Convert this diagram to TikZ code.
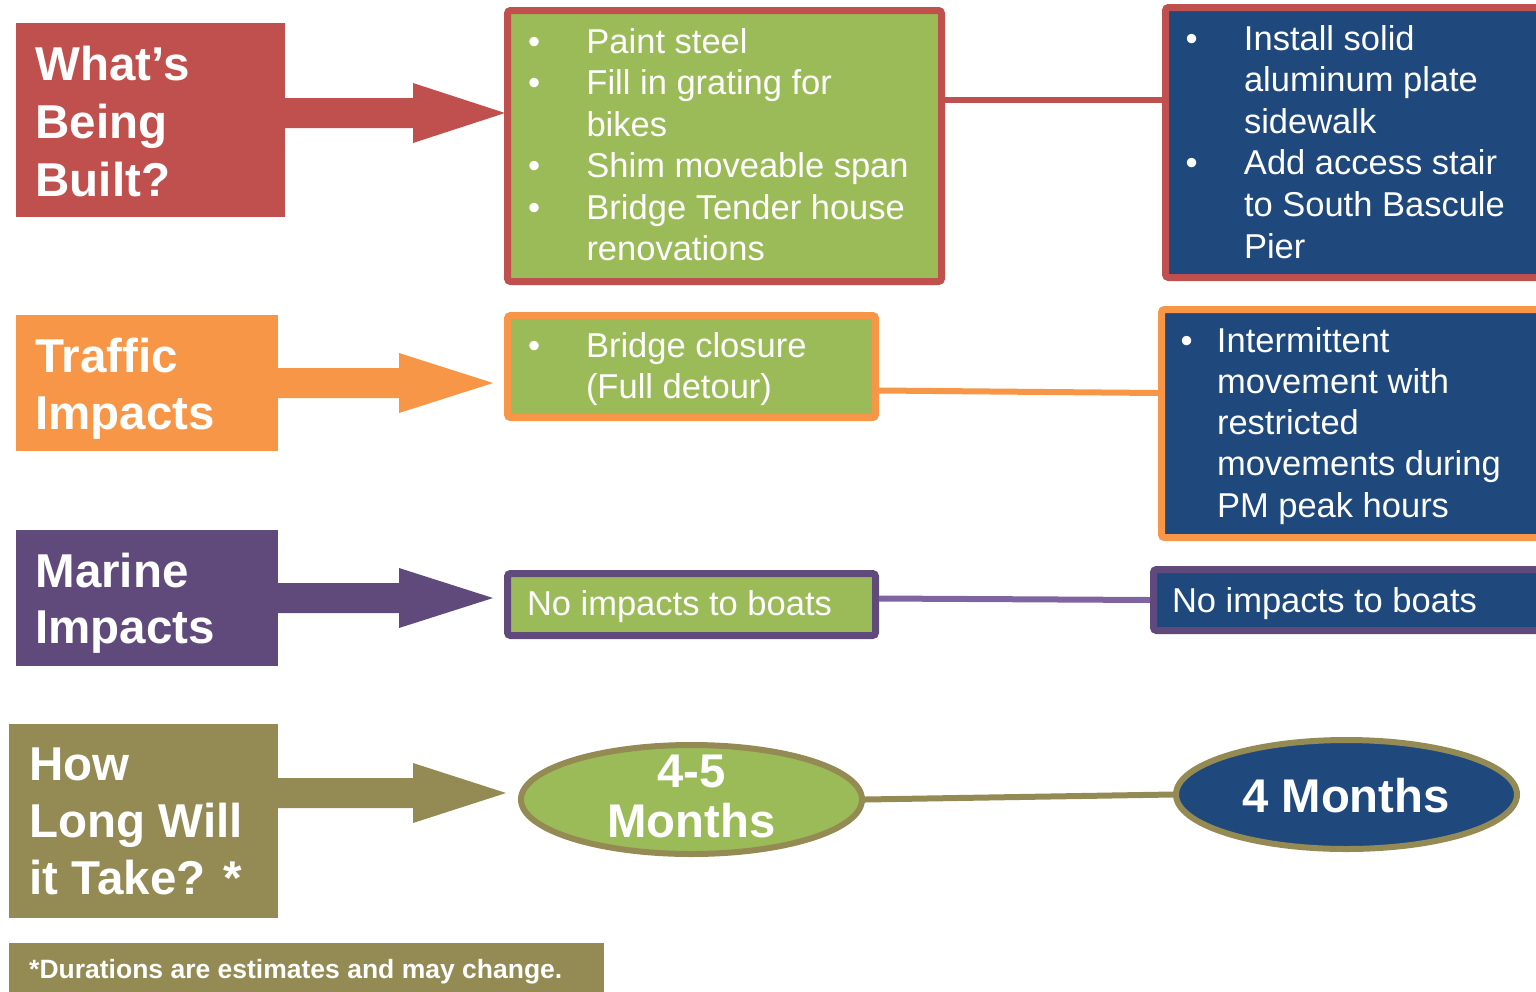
\documentclass[tikz,border=0pt]{standalone}
\usepackage{fontspec}
\setmainfont{Liberation Sans}
\usetikzlibrary{shapes.geometric}
\definecolor{cred}{HTML}{C0504D}
\definecolor{corange}{HTML}{F79646}
\definecolor{cpurple}{HTML}{604A7B}
\definecolor{cpurpleline}{HTML}{8064A2}
\definecolor{cgreen}{HTML}{9BBB59}
\definecolor{cblue}{HTML}{1F497D}
\definecolor{colive}{HTML}{948A54}
\newcommand{\myitem}[2]{\hbox{\makebox[#1][l]{•}#2}}
\newcommand{\mycont}[2]{\hbox{\hspace*{#1}#2}}
\newcommand{\blockarr}[6]{%
  \fill[#1] (#2.east |- 0,#3-15) -- (#4,#3-15) -- (#4,#3-30) -- (#5,#3) -- (#4,#3+30) -- (#4,#3+15) -- (#2.east |- 0,#3+15) -- cycle;
  \coordinate (#6) at (#5,#3);}
\begin{document}
\begin{tikzpicture}[x=1pt,y=-1pt,
  hdbox/.style={rectangle, inner sep=0, outer sep=0},
  txtbox/.style={rectangle, inner sep=0, line width=7pt, rounded corners=3pt},
  ovalbox/.style={ellipse, inner sep=0, line width=6pt, minimum width=341pt, minimum height=109pt},
  hdtxt/.style={inner sep=0, outer sep=0, anchor=base west, text=white, font=\fontsize{47.5}{57}\selectfont\bfseries},
  bodytxt/.style={inner sep=0, outer sep=0, anchor=base west, text=white, font=\fontsize{34.5}{41.5}\selectfont},
  ovaltxt/.style={inner sep=0, outer sep=0, anchor=base, text=white, font=\fontsize{47.3}{50}\selectfont\bfseries},
  link/.style={line width=6pt}]
\useasboundingbox (0,0) rectangle (1536,991);
\clip (0,0) rectangle (1536,991);

% left header boxes
\node[hdbox, fill=cred, minimum width=269pt, minimum height=194pt] (hd1) at (150.5,120) {};
\node[hdbox, fill=corange, minimum width=262pt, minimum height=136pt] (hd2) at (147,383) {};
\node[hdbox, fill=cpurple, minimum width=262pt, minimum height=136pt] (hd3) at (147,598) {};
\node[hdbox, fill=colive, minimum width=269pt, minimum height=194pt] (hd4) at (143.5,821) {};
\node[hdbox, fill=colive, minimum width=595pt, minimum height=57pt] (foot) at (306.5,971.5) {};

\node[hdtxt] (hd1t) at (35.5,80) {\vtop{\baselineskip=58pt\hbox{What’s}\hbox{Being}\hbox{Built?}}};
\node[hdtxt] (hd2t) at (35.5,372) {\vtop{\baselineskip=57pt\hbox{Traffic}\hbox{Impacts}}};
\node[hdtxt] (hd3t) at (35.5,587) {\vtop{\baselineskip=56pt\hbox{Marine}\hbox{Impacts}}};
\node[hdtxt] (hd4t) at (29.5,780) {\vtop{\baselineskip=57pt\hbox{How}\hbox{Long Will}\hbox{it Take? *}}};
\node[inner sep=0, anchor=base west, text=white, font=\fontsize{26.5}{30}\selectfont\bfseries] (foott) at (29,978) {*Durations are estimates and may change.};

% block arrows
\blockarr{cred}{hd1}{113}{413}{505}{tip1}
\blockarr{corange}{hd2}{383}{399}{493}{tip2}
\blockarr{cpurple}{hd3}{598}{399}{493}{tip3}
\blockarr{colive}{hd4}{793}{413}{506}{tip4}

% middle and right boxes
\node[txtbox, fill=cgreen, draw=cred, minimum width=434pt, minimum height=271pt] (g1) at (724.5,146) {};
\node[txtbox, fill=cblue, draw=cred, minimum width=394.5pt, minimum height=270pt] (b1) at (1362.75,142.5) {};
\node[txtbox, fill=cgreen, draw=corange, minimum width=368pt, minimum height=102pt] (g2) at (691.5,366.5) {};
\node[txtbox, fill=cblue, draw=corange, minimum width=398.5pt, minimum height=228pt] (b2) at (1360.75,423.5) {};
\node[txtbox, fill=cgreen, draw=cpurple, minimum width=368pt, minimum height=62pt] (g3) at (691.5,604.5) {};
\node[txtbox, fill=cblue, draw=cpurple, minimum width=406.5pt, minimum height=61pt] (b3) at (1356.75,600) {};
\node[ovalbox, fill=cgreen, draw=colive] (e1) at (691.5,799.5) {};
\node[ovalbox, fill=cblue, draw=colive] (e2) at (1346.5,794.5) {};

% connectors
\draw[link, cred] (g1.east |- 0,100) -- (b1.west |- 0,100);
\draw[link, corange] (g2.east |- 0,390.5) -- (b2.west |- 0,393);
\draw[link, cpurpleline] (g3.east |- 0,598.5) -- (b3.west |- 0,600);
\draw[link, colive] (e1.east) -- (e2.west);

% texts
\node[bodytxt] (g1t) at (528,53) {\vtop{\baselineskip=41.5pt
  \myitem{58.5pt}{Paint steel}\myitem{58.5pt}{Fill in grating for}\mycont{58.5pt}{bikes}%
  \myitem{58.5pt}{Shim moveable span}\myitem{58.5pt}{Bridge Tender house}\mycont{58.5pt}{renovations}}};
\node[bodytxt] (b1t) at (1185.5,50) {\vtop{\baselineskip=41.6pt
  \myitem{58.5pt}{Install solid}\mycont{58.5pt}{aluminum plate}\mycont{58.5pt}{sidewalk}%
  \myitem{58.5pt}{Add access stair}\mycont{58.5pt}{to South Bascule}\mycont{58.5pt}{Pier}}};
\node[bodytxt] (g2t) at (528,357) {\vtop{\baselineskip=41pt
  \myitem{58pt}{Bridge closure}\mycont{58pt}{(Full detour)}}};
\node[bodytxt] (b2t) at (1180.5,352) {\vtop{\baselineskip=41.3pt
  \myitem{36.5pt}{Intermittent}\mycont{36.5pt}{movement with}\mycont{36.5pt}{restricted}%
  \mycont{36.5pt}{movements during}\mycont{36.5pt}{PM peak hours}}};
\node[bodytxt] (g3t) at (527,615) {No impacts to boats};
\node[bodytxt] (b3t) at (1172,612) {No impacts to boats};

\node[ovaltxt] (e1a) at (691.5,787) {4-5};
\node[ovaltxt] (e1b) at (691.5,837) {Months};
\node[ovaltxt] (e2t) at (1346,812) {4 Months};
\end{tikzpicture}
\end{document}
